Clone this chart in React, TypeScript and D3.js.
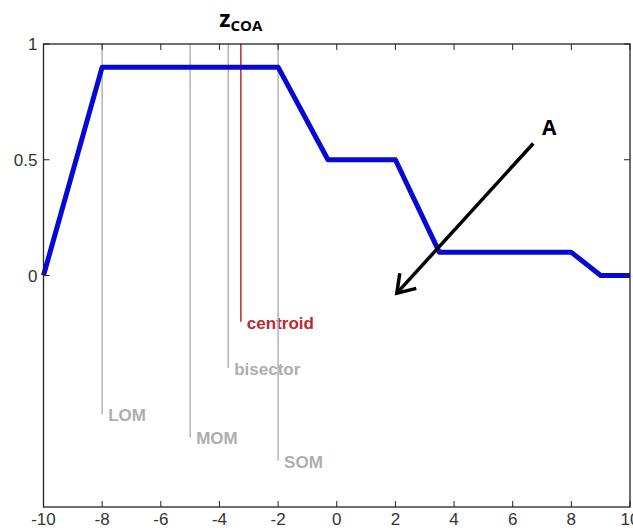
import { useEffect, useRef } from "react"
import * as d3 from "d3"

// aggregated output membership curve
const curveX = [-10, -8, -2, -0.3, 2, 3.5, 8, 9, 10]
const curveY = [0, 0.9, 0.9, 0.5, 0.5, 0.1, 0.1, 0, 0]

// defuzzification results
const methodNames = ["centroid", "bisector", "LOM", "MOM", "SOM"]
const methodValues = [-3.27, -3.7, -8, -5, -2]
const methodLabelY = [-0.2, -0.4, -0.6, -0.7, -0.8]

const xTicks = [-10, -8, -6, -4, -2, 0, 2, 4, 6, 8, 10]
const yTicks = [0, 0.5, 1]

// arrow "A" (data coords)
const arrowFrom = [6.7, 0.57]
const arrowTo = [2.05, -0.076]

const W = 633
const H = 530

export default function App() {
  const ref = useRef<SVGSVGElement>(null)

  useEffect(() => {
    const svg = d3.select(ref.current)
    svg.selectAll("*").remove()

    const x = d3.scaleLinear().domain([-10, 10]).range([43.5, 630])
    const y = d3.scaleLinear().domain([-1, 1]).range([507, 44])

    const tickFont = "'Liberation Sans', Arial, sans-serif"

    // defuzz lines
    methodNames.forEach((name, i) => {
      const isCentroid = name === "centroid"
      const col = isCentroid ? "#c0282c" : "#b4b4b4"
      svg.append("line")
        .attr("x1", x(methodValues[i])).attr("x2", x(methodValues[i]))
        .attr("y1", y(1)).attr("y2", y(methodLabelY[i]))
        .attr("stroke", col).attr("stroke-width", 1.5)
      svg.append("text")
        .attr("x", x(methodValues[i]) + 6)
        .attr("y", y(methodLabelY[i]))
        .attr("dy", "0.4em")
        .attr("font-family", tickFont)
        .attr("font-weight", 700)
        .attr("font-size", 17)
        .attr("fill", isCentroid ? "#c0282c" : "#aeaeae")
        .text(name)
    })

    // curve
    const line = d3.line<number>()
      .x((d) => x(d))
      .y((_, i) => y(curveY[i]))
    svg.append("path")
      .attr("d", line(curveX))
      .attr("fill", "none")
      .attr("stroke", "#0808d4")
      .attr("stroke-width", 5)
      .attr("stroke-linejoin", "round")

    // axes box
    svg.append("rect")
      .attr("x", x(-10)).attr("y", y(1))
      .attr("width", x(10) - x(-10)).attr("height", y(-1) - y(1))
      .attr("fill", "none").attr("stroke", "#222").attr("stroke-width", 1.3)

    xTicks.forEach((t) => {
      svg.append("line").attr("x1", x(t)).attr("x2", x(t))
        .attr("y1", y(-1)).attr("y2", y(-1) - 6).attr("stroke", "#222")
      svg.append("line").attr("x1", x(t)).attr("x2", x(t))
        .attr("y1", y(1)).attr("y2", y(1) + 6).attr("stroke", "#222")
      svg.append("text")
        .attr("x", x(t)).attr("y", 525)
        .attr("text-anchor", "middle")
        .attr("font-family", tickFont).attr("font-size", 17)
        .attr("fill", "#333")
        .text(t)
    })

    yTicks.forEach((t) => {
      svg.append("line").attr("x1", x(-10)).attr("x2", x(-10) + 6)
        .attr("y1", y(t)).attr("y2", y(t)).attr("stroke", "#222")
      svg.append("line").attr("x1", x(10)).attr("x2", x(10) - 6)
        .attr("y1", y(t)).attr("y2", y(t)).attr("stroke", "#222")
      svg.append("text")
        .attr("x", x(-10) - 6).attr("y", y(t))
        .attr("dy", "0.36em")
        .attr("text-anchor", "end")
        .attr("font-family", tickFont).attr("font-size", 17)
        .attr("fill", "#333")
        .text(t)
    })

    // title z_COA above centroid
    const title = svg.append("text")
      .attr("x", x(methodValues[0])).attr("y", 27)
      .attr("text-anchor", "middle")
      .attr("font-family", "'Open Sans', sans-serif")
      .attr("font-weight", 700)
      .attr("fill", "#000")
    title.append("tspan").attr("font-size", 23).text("z")
    title.append("tspan").attr("font-size", 15).attr("dy", 4).text("COA")

    // arrow A
    const [x0, y0] = [x(arrowFrom[0]), y(arrowFrom[1])]
    const [x1, y1] = [x(arrowTo[0]), y(arrowTo[1])]
    svg.append("line")
      .attr("x1", x0).attr("y1", y0).attr("x2", x1).attr("y2", y1)
      .attr("stroke", "#000").attr("stroke-width", 3.5)
    const back = Math.atan2(y0 - y1, x0 - x1)
    const headLen = 20
    const spread = (34 * Math.PI) / 180
    const p1 = [x1 + headLen * Math.cos(back - spread), y1 + headLen * Math.sin(back - spread)]
    const p2 = [x1 + headLen * Math.cos(back + spread), y1 + headLen * Math.sin(back + spread)]
    svg.append("path")
      .attr("d", `M${p1[0]},${p1[1]}L${x1},${y1}L${p2[0]},${p2[1]}`)
      .attr("fill", "none").attr("stroke", "#000").attr("stroke-width", 3.5)
      .attr("stroke-linejoin", "miter")
    svg.append("text")
      .attr("x", x(7.25)).attr("y", 135)
      .attr("text-anchor", "middle")
      .attr("font-family", "'Open Sans', sans-serif")
      .attr("font-weight", 700).attr("font-size", 21)
      .text("A")
  }, [])

  return (
    <svg
      ref={ref}
      width={W}
      height={H}
      style={{ position: "absolute", left: 0, top: 0, background: "#fff" }}
    />
  )
}
